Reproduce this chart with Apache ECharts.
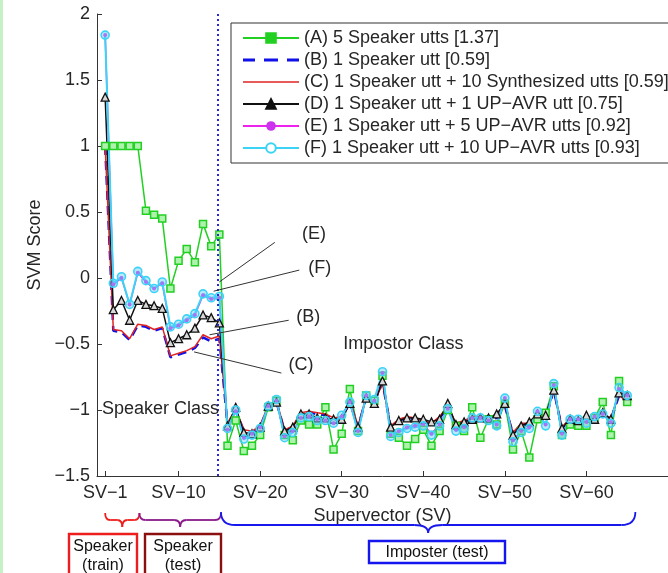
<!DOCTYPE html>
<html>
<head>
<meta charset="utf-8">
<script src="https://cdn.jsdelivr.net/npm/echarts@6/dist/echarts.min.js"></script>
<style>
  html, body { margin: 0; padding: 0; background: #ffffff; }
  #chart { width: 668px; height: 573px; }
</style>
</head>
<body>
<div id="chart"></div>
<script>
// Supervector indices (SV-1 .. SV-65): 1-5 speaker train, 6-15 speaker test, 16-65 impostors
const svIndex = [1,2,3,4,5,6,7,8,9,10,11,12,13,14,15,16,17,18,19,20,21,22,23,24,25,26,27,28,29,30,
  31,32,33,34,35,36,37,38,39,40,41,42,43,44,45,46,47,48,49,50,51,52,53,54,55,56,57,58,59,60,
  61,62,63,64,65];

const xTickValues = [1, 10, 20, 30, 40, 50, 60];
const yTickValues = [-1.5, -1, -0.5, 0, 0.5, 1, 1.5, 2];

const seriesNames = [
  '(A) 5 Speaker utts [1.37]',
  '(B) 1 Speaker utt [0.59]',
  '(C) 1 Speaker utt + 10 Synthesized utts [0.59]',
  '(D) 1 Speaker utt + 1 UP\u2212AVR utt [0.75]',
  '(E) 1 Speaker utt + 5 UP\u2212AVR utts [0.92]',
  '(F) 1 Speaker utt + 10 UP\u2212AVR utts [0.93]'
];

const scoresA = [1.00,1.00,1.00,1.00,1.00,0.51,0.48,0.45,-0.08,0.13,0.22,0.12,0.41,0.24,0.33,
  -1.27,-1.08,-1.31,-1.27,-1.19,-0.98,-0.93,-1.19,-1.23,-1.08,
  -1.11,-1.11,-0.98,-1.30,-1.18,-0.84,-1.16,-0.89,-0.93,-0.74,
  -1.18,-1.21,-1.27,-1.22,-1.15,-1.27,-1.16,-1.00,-1.12,-1.16,
  -0.98,-1.21,-1.07,-1.11,-0.95,-1.30,-1.16,-1.36,-1.07,-1.02,
  -0.82,-1.19,-1.11,-1.12,-1.12,-1.06,-0.94,-1.19,-0.78,-0.94];

const scoresB = [1.00,-0.40,-0.41,-0.47,-0.36,-0.37,-0.40,-0.38,-0.60,-0.58,-0.56,-0.53,-0.45,-0.48,-0.46,
  -1.11,-1.00,-1.16,-1.17,-1.13,-0.97,-0.94,-1.16,-1.13,-1.03,
  -1.02,-1.03,-1.04,-1.07,-1.06,-0.94,-1.13,-0.91,-0.94,-0.79,
  -1.13,-1.08,-1.06,-1.07,-1.09,-1.11,-1.06,-0.98,-1.11,-1.09,
  -1.06,-1.06,-1.07,-1.06,-0.97,-1.18,-1.11,-1.11,-1.05,-1.06,
  -0.85,-1.14,-1.07,-1.08,-1.06,-1.07,-1.04,-1.07,-0.89,-0.94];

const scoresC = [1.00,-0.39,-0.40,-0.46,-0.35,-0.36,-0.39,-0.37,-0.59,-0.57,-0.55,-0.52,-0.43,-0.46,-0.44,
  -1.10,-0.99,-1.15,-1.16,-1.12,-0.96,-0.93,-1.15,-1.12,-1.02,
  -1.01,-1.02,-1.03,-1.06,-1.05,-0.93,-1.12,-0.90,-0.94,-0.80,
  -1.12,-1.07,-1.05,-1.06,-1.08,-1.10,-1.05,-0.97,-1.10,-1.08,
  -1.05,-1.05,-1.06,-1.05,-0.96,-1.17,-1.10,-1.10,-1.04,-1.05,
  -0.84,-1.13,-1.06,-1.07,-1.05,-1.06,-1.03,-1.06,-0.88,-0.95];

const scoresD = [1.37,-0.24,-0.17,-0.32,-0.17,-0.20,-0.21,-0.23,-0.49,-0.46,-0.43,-0.38,-0.28,-0.30,-0.34,
  -1.12,-0.98,-1.17,-1.18,-1.13,-0.97,-0.94,-1.16,-1.13,-1.03,
  -1.03,-1.06,-1.06,-1.07,-1.07,-0.95,-1.13,-0.91,-0.95,-0.78,
  -1.13,-1.08,-1.06,-1.06,-1.07,-1.09,-1.07,-0.95,-1.11,-1.09,
  -1.07,-1.06,-1.06,-1.03,-0.95,-1.19,-1.12,-1.09,-1.03,-1.04,
  -0.85,-1.14,-1.07,-1.08,-1.04,-1.07,-1.02,-1.07,-0.87,-0.89];

const scoresE = [1.84,-0.05,0.00,-0.20,0.04,-0.03,-0.08,-0.04,-0.38,-0.36,-0.32,-0.28,-0.13,-0.16,-0.15,
  -1.15,-1.01,-1.21,-1.18,-1.13,-0.97,-0.93,-1.20,-1.16,-1.06,
  -1.05,-1.07,-1.08,-1.10,-1.05,-0.94,-1.16,-0.89,-0.93,-0.72,
  -1.19,-1.16,-1.13,-1.12,-1.11,-1.18,-1.11,-0.99,-1.15,-1.13,
  -1.06,-1.06,-1.08,-1.11,-0.91,-1.23,-1.16,-1.13,-1.01,-1.11,
  -0.81,-1.18,-1.07,-1.07,-1.09,-1.05,-1.03,-1.09,-0.84,-0.89];

const scoresF = [1.84,-0.04,0.01,-0.20,0.05,-0.02,-0.08,-0.03,-0.37,-0.35,-0.31,-0.27,-0.12,-0.15,-0.14,
  -1.14,-1.00,-1.22,-1.19,-1.14,-0.97,-0.92,-1.21,-1.17,-1.06,
  -1.05,-1.08,-1.08,-1.10,-1.04,-0.94,-1.17,-0.89,-0.92,-0.71,
  -1.20,-1.17,-1.14,-1.13,-1.12,-1.19,-1.12,-0.99,-1.16,-1.14,
  -1.06,-1.06,-1.08,-1.12,-0.91,-1.24,-1.17,-1.14,-1.01,-1.12,
  -0.80,-1.19,-1.07,-1.07,-1.10,-1.05,-1.03,-1.10,-0.83,-0.89];

// boundary between speaker and impostor supervectors
const classBoundary = 14.85;

// annotation arrows: [label, labelPos, lineStart, arrowTip] in axis units
const arrowNotes = [
  ['(E)', [26.6, 0.33],  [21.8, 0.27],  [15.0, -0.03]],
  ['(F)', [27.3, 0.076], [24.8, 0.06],  [14.3, -0.10]],
  ['(B)', [25.9, -0.295],[23.5, -0.32], [13.8, -0.43]],
  ['(C)', [25.0, -0.66], [22.6, -0.72], [11.9, -0.56]]
];
const classNotes = [
  ['Speaker Class', [0.6, -0.99]],
  ['Impostor Class', [30.2, -0.50]]
];

// bracket spans along the x axis (axis units) and the boxes under them
const groupSpans = [[1.0, 5.2], [5.2, 15.2], [15.2, 66.0]];
const groupColors = ['#ee1d1d', '#8a1a8a', '#1818ee'];
const groupBoxes = [
  { lines: ['Speaker', '(train)'], color: '#ee1d1d' },
  { lines: ['Speaker', '(test)'], color: '#8b0f0f' },
  { lines: ['Imposter (test)'], color: '#1515f0' }
];

const FONT = '"Liberation Sans", Arial, Helvetica, sans-serif';
const TEXT = '#262626';

function pairs(vals) { return svIndex.map((n, i) => [n, vals[i]]); }

// plain line icons for the legend entries that have no markers
const BOX = 'M0,0h0.01v0.01h-0.01z M56,12h-0.01v-0.01h0.01z ';
const dashedIcon = 'path://' + BOX + 'M0,4.6h12v2.8h-12z M21,4.6h14v2.8h-14z M44,4.6h12v2.8h-12z';
const solidIcon = 'path://' + BOX + 'M0,5.3h56v1.4h-56z';

const chart = echarts.init(document.getElementById('chart'), null, { renderer: 'canvas' });

const baseLine = { type: 'line', smooth: false, animation: false, showSymbol: true };

const option = {
  backgroundColor: '#ffffff',
  animation: false,
  textStyle: { fontFamily: FONT },
  grid: { left: 97, top: 14, right: -12, bottom: 97, containLabel: false },
  legend: {
    data: [
      { name: seriesNames[0], itemStyle: { color: '#22d022' } },
      { name: seriesNames[1], icon: dashedIcon },
      { name: seriesNames[2], icon: solidIcon },
      { name: seriesNames[3], itemStyle: { color: '#111111' } },
      { name: seriesNames[4] },
      { name: seriesNames[5], itemStyle: { color: '#ffffff' } }
    ],
    orient: 'vertical',
    left: 231,
    top: 23,
    padding: [6, 200, 6, 11],
    itemWidth: 56,
    itemHeight: 12,
    itemGap: 4,
    borderColor: '#333333',
    borderWidth: 1,
    backgroundColor: '#ffffff',
    selectedMode: false,
    textStyle: { fontSize: 18, color: TEXT, fontFamily: FONT }
  },
  xAxis: {
    type: 'value',
    min: 0,
    max: 70,
    name: 'Supervector (SV)',
    nameLocation: 'middle',
    nameGap: 26,
    nameTextStyle: { fontSize: 18, color: TEXT, fontFamily: FONT },
    axisLine: { show: true, onZero: false, lineStyle: { color: '#333333', width: 1 } },
    axisTick: { show: true, inside: true, length: 5, customValues: xTickValues, lineStyle: { color: '#333333' } },
    axisLabel: {
      show: true, customValues: xTickValues, margin: 8,
      fontSize: 18, color: TEXT, fontFamily: FONT,
      formatter: v => 'SV\u2212' + v
    },
    splitLine: { show: false }
  },
  yAxis: {
    type: 'value',
    min: -1.5,
    max: 2,
    interval: 0.5,
    name: 'SVM Score',
    nameLocation: 'middle',
    nameGap: 49,
    nameRotate: 90,
    nameTextStyle: { fontSize: 18, color: TEXT, fontFamily: FONT },
    axisLine: { show: true, onZero: false, lineStyle: { color: '#333333', width: 1 } },
    axisTick: { show: true, inside: true, length: 5, lineStyle: { color: '#333333' } },
    axisLabel: {
      margin: 7, fontSize: 18, color: TEXT, fontFamily: FONT,
      formatter: v => String(v).replace('-', '\u2212')
    },
    splitLine: { show: false }
  },
  series: [
    Object.assign({}, baseLine, {
      name: seriesNames[0], data: pairs(scoresA),
      symbol: 'rect', symbolSize: 7,
      lineStyle: { color: '#22d022', width: 1.5 },
      itemStyle: { color: '#aef2ae', borderColor: '#22d022', borderWidth: 1.5 },
      markLine: {
        silent: true, symbol: 'none', animation: false,
        label: { show: false },
        lineStyle: { color: '#2a2ad8', type: [2, 3], width: 2 },
        data: [{ xAxis: classBoundary }]
      }
    }),
    Object.assign({}, baseLine, {
      name: seriesNames[1], data: pairs(scoresB),
      symbol: 'none',
      lineStyle: { color: '#1010e8', width: 2.5, type: [9, 6] },
      itemStyle: { color: '#1010e8' }
    }),
    Object.assign({}, baseLine, {
      name: seriesNames[2], data: pairs(scoresC),
      symbol: 'none',
      lineStyle: { color: '#e02424', width: 1.5 },
      itemStyle: { color: '#e02424' }
    }),
    Object.assign({}, baseLine, {
      name: seriesNames[3], data: pairs(scoresD),
      symbol: 'triangle', symbolSize: 8,
      lineStyle: { color: '#111111', width: 1.5 },
      itemStyle: { color: '#d8d8d8', borderColor: '#111111', borderWidth: 1.3 }
    }),
    Object.assign({}, baseLine, {
      name: seriesNames[4], data: pairs(scoresE),
      symbol: 'circle', symbolSize: 4,
      lineStyle: { color: '#ee22ee', width: 1.5 },
      itemStyle: { color: '#cc33ee' }
    }),
    Object.assign({}, baseLine, {
      name: seriesNames[5], data: pairs(scoresF),
      symbol: 'circle', symbolSize: 8,
      lineStyle: { color: '#3cd4f6', width: 2 },
      itemStyle: { color: 'rgba(110,200,250,0.45)', borderColor: '#3cd4f6', borderWidth: 1.6 }
    }),
    {
      // annotation arrows
      type: 'line', name: 'notes', data: [], animation: false,
      markLine: {
        silent: true, animation: false,
        symbol: ['none', 'arrow'], symbolSize: [0, 16],
        label: { show: false },
        lineStyle: { color: '#333333', width: 1, type: 'solid' },
        data: arrowNotes.map(a => [{ coord: a[2] }, { coord: a[3] }])
      }
    }
  ]
};

chart.setOption(option);

// text and bracket decorations placed from axis coordinates
function toPx(pt) { return chart.convertToPixel({ xAxisIndex: 0, yAxisIndex: 0 }, pt); }
function xPx(v) { return chart.convertToPixel({ xAxisIndex: 0 }, v); }

const graphics = [];

// thin pale-green strip on the left edge
graphics.push({ type: 'rect', shape: { x: 0, y: 0, width: 3, height: 573 }, style: { fill: '#c4f2c4' }, z: 100 });

arrowNotes.forEach(a => {
  const p = toPx(a[1]);
  graphics.push({
    type: 'text', x: p[0], y: p[1], z: 50,
    style: { text: a[0], font: '18px ' + FONT, fill: TEXT, align: 'center', verticalAlign: 'middle' }
  });
});

classNotes.forEach(c => {
  const p = toPx(c[1]);
  graphics.push({
    type: 'text', x: p[0], y: p[1], z: 50,
    style: { text: c[0], font: '18px ' + FONT, fill: TEXT, align: 'left', verticalAlign: 'middle' }
  });
});

// curly brackets below the x-axis title, built from curves and straight runs
function braceParts(x1, x2, yEnd, yFlat, yTip, r, color) {
  const xm = (x1 + x2) / 2;
  const st = { stroke: color, lineWidth: 1.8, fill: 'none' };
  const curve = (ax, ay, bx, by, cx, cy) => ({
    type: 'bezierCurve', z: 50, silent: true,
    shape: { x1: ax, y1: ay, x2: bx, y2: by, cpx1: cx, cpy1: cy }, style: st
  });
  const run = (ax, bx) => ({
    type: 'line', z: 50, silent: true,
    shape: { x1: ax, y1: yFlat, x2: bx, y2: yFlat }, style: st
  });
  return [
    curve(x1, yEnd, x1 + r, yFlat, x1, yFlat),
    run(x1 + r, xm - r),
    curve(xm - r, yFlat, xm, yTip, xm, yFlat),
    curve(xm, yTip, xm + r, yFlat, xm, yFlat),
    run(xm + r, x2 - r),
    curve(x2 - r, yFlat, x2, yEnd, x2, yFlat)
  ];
}
const braceGeom = [
  { yEnd: 513, yFlat: 520, yTip: 527, r: 5 },
  { yEnd: 513, yFlat: 520, yTip: 527, r: 6 },
  { yEnd: 512, yFlat: 525, yTip: 533, r: 14 }
];
groupSpans.forEach((s, i) => {
  const g = braceGeom[i];
  braceParts(xPx(s[0]), xPx(s[1]), g.yEnd, g.yFlat, g.yTip, g.r, groupColors[i])
    .forEach(el => graphics.push(el));
});

// labelled boxes under the brackets
const boxGeom = [
  { x: 69, y: 534, w: 68, h: 44 },
  { x: 145, y: 534, w: 76, h: 44 },
  { x: 369, y: 541, w: 136, h: 22 }
];
groupBoxes.forEach((b, i) => {
  const g = boxGeom[i];
  graphics.push({
    type: 'rect', z: 50,
    shape: { x: g.x, y: g.y, width: g.w, height: g.h },
    style: { fill: '#ffffff', stroke: b.color, lineWidth: 2.4 }
  });
  const cx = g.x + g.w / 2;
  const startY = b.lines.length === 1 ? g.y + g.h / 2 + 0.5 : g.y + 13;
  b.lines.forEach((t, k) => {
    graphics.push({
      type: 'text', x: cx, y: startY + k * 19, z: 51,
      style: { text: t, font: '16px ' + FONT, fill: '#111111', align: 'center', verticalAlign: 'middle' }
    });
  });
});

chart.setOption({ graphic: graphics });
</script>
</body>
</html>
